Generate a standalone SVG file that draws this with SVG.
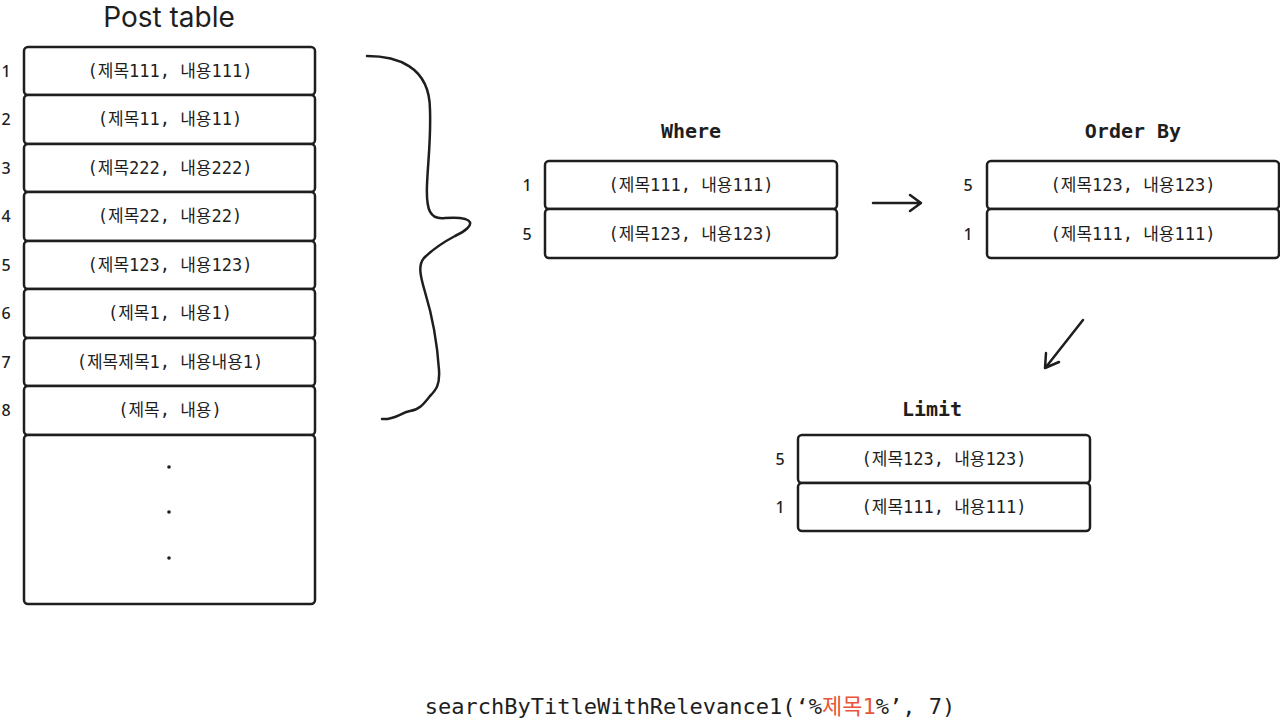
<svg xmlns="http://www.w3.org/2000/svg" width="1280" height="720" viewBox="0 0 1280 720">
<style>
.box{fill:#fff;stroke:#1e1e1e;stroke-width:2.5}
.t{font-family:"DejaVu Sans Mono","Noto Sans CJK KR",monospace;font-size:17px;fill:#1e1e1e;text-anchor:middle}
.n{font-family:"Noto Sans",sans-serif;font-size:16px;font-weight:500;fill:#1e1e1e;text-anchor:middle}
.h{font-family:"DejaVu Sans Mono","Liberation Mono",monospace;font-size:20px;font-weight:bold;fill:#1e1e1e;text-anchor:middle}
.ln{fill:none;stroke:#1e1e1e;stroke-width:2.5;stroke-linecap:round;stroke-linejoin:round}
</style>
<rect width="1280" height="720" fill="#fff"/>
<g id="post-table">
<text x="169" y="27" font-family="Inter,'Noto Sans',sans-serif" font-size="28" fill="#1e1e1e" text-anchor="middle">Post table</text>
<rect class="box" x="24" y="47" width="291" height="48" rx="4"/>
<rect class="box" x="24" y="95" width="291" height="49" rx="4"/>
<rect class="box" x="24" y="144" width="291" height="48" rx="4"/>
<rect class="box" x="24" y="192" width="291" height="49" rx="4"/>
<rect class="box" x="24" y="241" width="291" height="48" rx="4"/>
<rect class="box" x="24" y="289" width="291" height="49" rx="4"/>
<rect class="box" x="24" y="338" width="291" height="48" rx="4"/>
<rect class="box" x="24" y="386" width="291" height="49" rx="4"/>
<rect class="box" x="24" y="435" width="291" height="169" rx="4"/>
<text class="t" x="170" y="77">(제목111, 내용111)</text>
<text class="t" x="170" y="125">(제목11, 내용11)</text>
<text class="t" x="170" y="174">(제목222, 내용222)</text>
<text class="t" x="170" y="222">(제목22, 내용22)</text>
<text class="t" x="170" y="271">(제목123, 내용123)</text>
<text class="t" x="170" y="319">(제목1, 내용1)</text>
<text class="t" x="170" y="368">(제목제목1, 내용내용1)</text>
<text class="t" x="170" y="416">(제목, 내용)</text>
<circle cx="169" cy="467" r="1.8" fill="#1e1e1e"/>
<circle cx="169" cy="512" r="1.8" fill="#1e1e1e"/>
<circle cx="169" cy="558" r="1.8" fill="#1e1e1e"/>
<text class="n" x="6" y="77">1</text>
<text class="n" x="6" y="125">2</text>
<text class="n" x="6" y="174">3</text>
<text class="n" x="6" y="222">4</text>
<text class="n" x="6" y="271">5</text>
<text class="n" x="6" y="319">6</text>
<text class="n" x="6" y="368">7</text>
<text class="n" x="6" y="416">8</text>
</g>
<g id="where">
<text class="h" x="691" y="138">Where</text>
<rect class="box" x="545" y="161" width="292" height="48" rx="4"/>
<rect class="box" x="545" y="209" width="292" height="49" rx="4"/>
<text class="t" x="691" y="191">(제목111, 내용111)</text>
<text class="t" x="691" y="240">(제목123, 내용123)</text>
<text class="n" x="527" y="191">1</text>
<text class="n" x="527" y="240">5</text>
</g>
<g id="order-by">
<text class="h" x="1133" y="138">Order By</text>
<rect class="box" x="987" y="161" width="292" height="48" rx="4"/>
<rect class="box" x="987" y="209" width="292" height="49" rx="4"/>
<text class="t" x="1133" y="191">(제목123, 내용123)</text>
<text class="t" x="1133" y="240">(제목111, 내용111)</text>
<text class="n" x="968" y="191">5</text>
<text class="n" x="968" y="240">1</text>
</g>
<g id="limit">
<text class="h" x="932" y="416">Limit</text>
<rect class="box" x="798" y="435" width="292" height="48" rx="4"/>
<rect class="box" x="798" y="483" width="292" height="48" rx="4"/>
<text class="t" x="944" y="465">(제목123, 내용123)</text>
<text class="t" x="944" y="513">(제목111, 내용111)</text>
<text class="n" x="780" y="465">5</text>
<text class="n" x="780" y="513">1</text>
</g>
<g id="connectors">
<path class="ln" d="M367 56 C395 56 430 65 430 110 C431 140 428 160 427 185 C426 210 430 220 445 218 C475 216 478 225 455 236 C440 244 430 252 424 258 C418 265 420 275 425 292 C432 315 437 340 439 370 C440 385 436 390 430 396 C425 402 420 410 410 411 C400 413 395 420 382 419"/>
<path class="ln" d="M873 203 L920 203 M910 195 L921 203 L910 211"/>
<path class="ln" d="M1083 320 L1046 367 M1046 353 L1045 368 L1059 362"/>
</g>
<g id="caption">
<text x="690" y="714" font-family="'DejaVu Sans Mono','Noto Sans CJK KR',monospace" font-size="22" fill="#1e1e1e" text-anchor="middle">searchByTitleWithRelevance1(‘%<tspan fill="#e8553a">제목1</tspan>%’, 7)</text>
</g>
</svg>
